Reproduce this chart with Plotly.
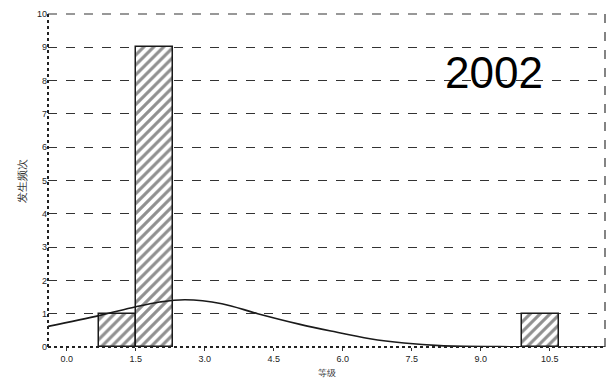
import plotly.graph_objects as go

# Histogram bins (bin midpoints) and their counts
bin_mid = [1.1, 1.9, 10.3]
counts = [1, 9, 1]
bin_width = 0.8

# Fitted normal curve, sampled along the x axis
curve_x = [-0.41, 0.72, 1.48, 2.02, 2.57, 3.37, 4.15, 5.07, 5.74, 6.59, 7.33, 8.11, 9.41, 11.7]
curve_y = [0.62, 0.95, 1.20, 1.35, 1.42, 1.30, 1.00, 0.68, 0.48, 0.25, 0.12, 0.04, 0.01, 0.0]

# Axis ticks
x_ticks = [0.0, 1.5, 3.0, 4.5, 6.0, 7.5, 9.0, 10.5]
x_labels = ["0.0", "1.5", "3.0", "4.5", "6.0", "7.5", "9.0", "10.5"]
y_ticks = list(range(0, 11))
y_labels = [str(v) for v in y_ticks]

fig = go.Figure()

fig.add_trace(go.Bar(
    x=bin_mid, y=counts, width=bin_width,
    marker=dict(
        color="white",
        line=dict(color="#1a1a1a", width=1.5),
        pattern=dict(shape="/", fgcolor="#222222", bgcolor="white",
                     size=7, solidity=0.45),
    ),
    showlegend=False,
))

fig.add_trace(go.Scatter(
    x=curve_x, y=curve_y, mode="lines",
    line=dict(color="#1a1a1a", width=1.6, shape="spline", smoothing=1.0),
    showlegend=False,
))

font_family = "Liberation Sans, Arial, sans-serif"

fig.update_layout(
    width=610, height=385,
    margin=dict(l=48, r=5, t=14, b=38),
    paper_bgcolor="white", plot_bgcolor="white",
    bargap=0,
    font=dict(family=font_family, color="#222222", size=9),
    xaxis=dict(
        range=[-0.41, 11.7], tickvals=x_ticks, ticktext=x_labels,
        showgrid=False, zeroline=False, showline=False,
        ticks="outside", ticklen=3, tickcolor="#333333",
        tickfont=dict(size=9, color="#222222"),
        title=dict(text="等级", font=dict(size=9, color="#333333"), standoff=6),
    ),
    yaxis=dict(
        range=[0, 10], tickvals=y_ticks, ticktext=y_labels,
        showgrid=True, gridcolor="#333333", griddash="dash", gridwidth=1,
        zeroline=False, showline=False,
        ticks="", tickfont=dict(size=9, color="#222222"),
        title=dict(text="发生频次", font=dict(size=11, color="#333333"), standoff=8),
    ),
    shapes=[
        # dashed frame around the plotting area
        dict(type="line", xref="paper", yref="paper", x0=0, x1=1, y0=1, y1=1,
             line=dict(color="#333333", width=1.2, dash="dash")),
        dict(type="line", xref="paper", yref="paper", x0=1, x1=1, y0=0, y1=1,
             line=dict(color="#333333", width=1.2, dash="dash")),
        dict(type="line", xref="paper", yref="paper", x0=0, x1=0, y0=0, y1=1,
             line=dict(color="#222222", width=2, dash="dot")),
        dict(type="line", xref="paper", yref="paper", x0=0, x1=1, y0=0, y1=0,
             line=dict(color="#222222", width=2, dash="dot")),
    ],
    annotations=[
        dict(text="2002", xref="paper", yref="paper", x=0.8, y=0.825,
             xanchor="center", yanchor="middle", showarrow=False,
             font=dict(family=font_family, size=44, color="black")),
    ],
)

fig.write_html("out.html")
